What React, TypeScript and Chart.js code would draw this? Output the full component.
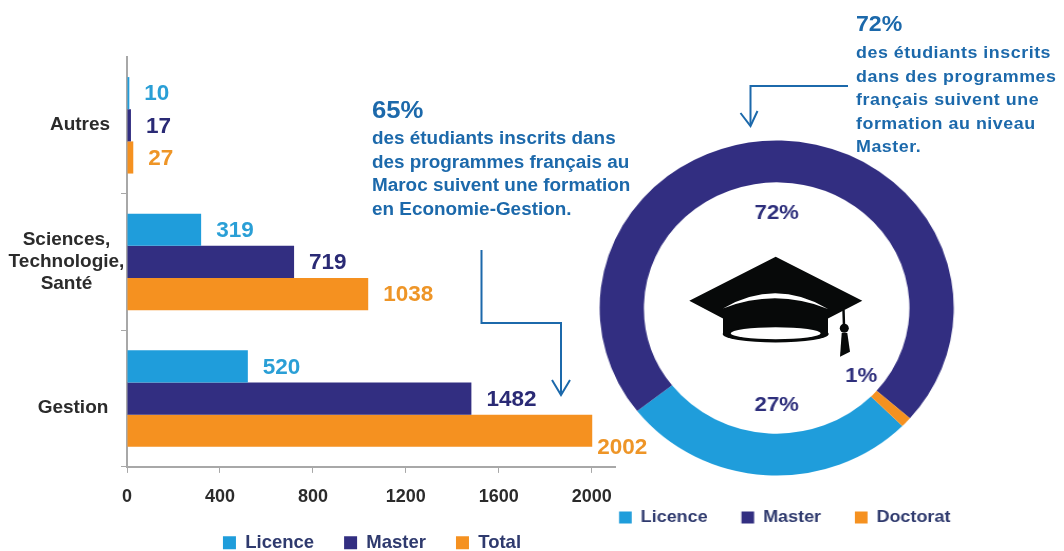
import React, { useEffect, useRef } from "react";
import { Chart, registerables } from "chart.js";

Chart.register(...registerables);

const categories: (string | string[])[] = ["Autres", ["Sciences,", "Technologie,", "Santé"], "Gestion"];
const licenceValues = [10, 319, 520];
const masterValues = [17, 719, 1482];
const totalValues = [27, 1038, 2002];
const xTickValues = [0, 400, 800, 1200, 1600, 2000];
const ringLabels = ["Licence", "Master", "Doctorat"];
const ringValues = [27, 72, 1];
const ringText = ["27%", "72%", "1%"];

const BLUE = "#1f9ddb";
const NAVY = "#322e81";
const ORANGE = "#f59120";
const INK = "#2b2b2b";
const TEXT_BLUE = "#1c69ab";
const FAMILY = "'Liberation Sans', Arial, sans-serif";
const LABEL_COLORS = ["#2a9fd6", "#2a2a75", "#ee9527"];

const barLabels = {
  id: "barLabels",
  afterDatasetsDraw(chart: any) {
    const { ctx } = chart;
    ctx.save();
    ctx.font = `bold 22.5px ${FAMILY}`;
    ctx.textAlign = "left";
    ctx.textBaseline = "middle";
    chart.data.datasets.forEach((ds: any, d: number) => {
      const meta = chart.getDatasetMeta(d);
      meta.data.forEach((el: any, i: number) => {
        const v = ds.data[i];
        const over = v > 2000;
        ctx.fillStyle = LABEL_COLORS[d];
        ctx.fillText(String(v), el.x + (over ? 5 : 15), el.y + (over ? 17 : 1));
      });
    });
    ctx.restore();
  },
};

const categoryLabels = {
  id: "categoryLabels",
  afterDraw(chart: any) {
    const { ctx } = chart;
    const scale = chart.scales.y;
    const centres = [80, 66.5, 73];
    const nudges = [-1, 0, 9];
    ctx.save();
    ctx.font = `bold 19px ${FAMILY}`;
    ctx.fillStyle = INK;
    ctx.textAlign = "center";
    ctx.textBaseline = "middle";
    categories.forEach((c, i) => {
      const lines = Array.isArray(c) ? c : [c];
      const y0 = scale.getPixelForTick(i) + nudges[i] - ((lines.length - 1) * 22) / 2;
      lines.forEach((t, k) => ctx.fillText(t, centres[i], y0 + k * 22));
    });
    ctx.restore();
  },
};

const ringCentreLabels = {
  id: "ringCentreLabels",
  afterDatasetsDraw(chart: any) {
    const { ctx } = chart;
    const el = chart.getDatasetMeta(0).data[0];
    const offsets = [
      [0, 97],
      [0, -95],
      [80, 68],
    ];
    ctx.save();
    ctx.font = `bold 21px ${FAMILY}`;
    ctx.fillStyle = "#2e2f7c";
    ctx.textAlign = "center";
    ctx.textBaseline = "middle";
    ringText.forEach((t, i) => ctx.fillText(t, el.x + offsets[i][0], el.y + offsets[i][1]));
    ctx.restore();
  },
};

const moveLegend = (dx: number, dy: number) => ({
  id: "moveLegend",
  afterLayout(chart: any) {
    chart.legend.left += dx;
    chart.legend.right += dx;
    chart.legend.top += dy;
    chart.legend.bottom += dy;
  },
});

const blockStyle = (left: number, top: number, size: number, lh: number, spacing: number): React.CSSProperties => ({
  position: "absolute",
  left,
  top,
  color: TEXT_BLUE,
  fontFamily: FAMILY,
  fontWeight: 700,
  fontSize: size,
  lineHeight: `${lh}px`,
  letterSpacing: spacing,
  whiteSpace: "pre",
  transform: "scaleX(1.05)",
  transformOrigin: "0 0",
});

export default function App() {
  const barRef = useRef<HTMLCanvasElement>(null);
  const ringRef = useRef<HTMLCanvasElement>(null);

  useEffect(() => {
    const axisGrey = "#a8a8a8";
    const bar = new Chart(barRef.current!, {
      type: "bar",
      data: {
        labels: categories as any,
        datasets: [
          { label: "Licence", data: licenceValues, backgroundColor: BLUE },
          { label: "Master", data: masterValues, backgroundColor: NAVY },
          { label: "Total", data: totalValues, backgroundColor: ORANGE },
        ],
      },
      options: {
        animation: false,
        responsive: false,
        indexAxis: "y",
        datasets: { bar: { categoryPercentage: 0.706, barPercentage: 1 } },
        layout: { padding: { left: 121, right: 130, top: 57, bottom: 0 } },
        scales: {
          x: {
            min: 0,
            max: 2100,
            afterBuildTicks: (s: any) => {
              s.ticks = xTickValues.map((value) => ({ value }));
            },
            grid: { drawOnChartArea: false, color: axisGrey, tickLength: 6 },
            border: { color: axisGrey, width: 2 },
            ticks: {
              color: INK,
              font: { family: FAMILY, size: 18, weight: "bold" },
              padding: 13,
              maxRotation: 0,
              callback: (v: any) => String(v),
            },
          },
          y: {
            grid: {
              drawOnChartArea: false,
              tickLength: 6,
              color: (c: any) => (c.index === 0 ? "rgba(0,0,0,0)" : axisGrey),
            },
            border: { color: axisGrey, width: 2 },
            ticks: { display: false },
          },
        },
        plugins: {
          tooltip: { enabled: false },
          legend: {
            position: "bottom",
            labels: {
              boxWidth: 13,
              boxHeight: 13,
              padding: 30,
              color: "#2f3a6e",
              font: { family: FAMILY, size: 18.5, weight: "bold" },
            },
          },
        },
      },
      plugins: [barLabels, categoryLabels, moveLegend(4, -17)],
    } as any);

    const ring = new Chart(ringRef.current!, {
      type: "doughnut",
      data: {
        labels: ringLabels,
        datasets: [
          {
            data: ringValues,
            backgroundColor: [BLUE, NAVY, ORANGE],
            borderWidth: 0,
            radius: 167.5,
            cutout: "75%",
          },
        ],
      },
      options: {
        animation: false,
        responsive: false,
        rotation: 134.8,
        layout: { padding: { top: 139, bottom: 26 } },
        plugins: {
          tooltip: { enabled: false },
          legend: {
            position: "bottom",
            labels: {
              boxWidth: 12,
              boxHeight: 12,
              padding: 32,
              color: "#2f3a6e",
              font: { family: FAMILY, size: 17, weight: "bold" },
            },
          },
        },
      },
      plugins: [ringCentreLabels, moveLegend(7.6, 0)],
    } as any);

    return () => {
      bar.destroy();
      ring.destroy();
    };
  }, []);

  return (
    <div style={{ position: "fixed", left: 0, top: 0, width: 1064, height: 551, background: "#fff", overflow: "hidden" }}>
      <canvas ref={barRef} width={745} height={579} style={{ position: "absolute", left: 0, top: 0 }} />
      <canvas
        ref={ringRef}
        width={410}
        height={562}
        style={{ position: "absolute", left: 560, top: 0, transform: "scaleX(1.057)", transformOrigin: "0 0" }}
      />
      <div style={blockStyle(372, 96, 24.5, 28, 0)}>65%</div>
      <div style={blockStyle(372, 127, 18, 23.7, 0)}>
        {"des étudiants inscrits dans\ndes programmes français au\nMaroc suivent une formation\nen Economie-Gestion."}
      </div>
      <div style={blockStyle(856, 10, 22, 28, 0)}>72%</div>
      <div style={blockStyle(856, 41, 17, 23.5, 0.5)}>
        {"des étudiants inscrits\ndans des programmes\nfrançais suivent une\nformation au niveau\nMaster."}
      </div>
      <svg width={1064} height={551} style={{ position: "absolute", left: 0, top: 0 }}>
        <g fill="none" stroke={TEXT_BLUE} strokeWidth={2}>
          <polyline points="481.5,250 481.5,323 561,323 561,394" />
          <polyline points="552,380 561,395 570,380" />
          <polyline points="848,86 750.5,86 750.5,125" />
          <polyline points="740.5,113 750.5,126 757.5,111" />
        </g>
        <g fill="#070909">
          <polygon points="689.3,300.7 775.7,256.7 862.3,300.7 828,318.5 828,333 723,333 723,318.5" />
          <ellipse cx={775.7} cy={334} rx={53} ry={8.5} />
          <ellipse cx={775.7} cy={333.3} rx={45} ry={6} fill="#fff" />
          <path d="M723,308.5 Q775.7,278 828,309 Q775.7,288 723,308.5 Z" fill="#fff" />
          <line x1={843.5} y1={310} x2={844} y2={326} stroke="#070909" strokeWidth={2.5} />
          <circle cx={844.3} cy={328.3} r={4.5} />
          <polygon points="841.7,333 847.3,333 850,351.7 840,356.7" />
        </g>
      </svg>
    </div>
  );
}
